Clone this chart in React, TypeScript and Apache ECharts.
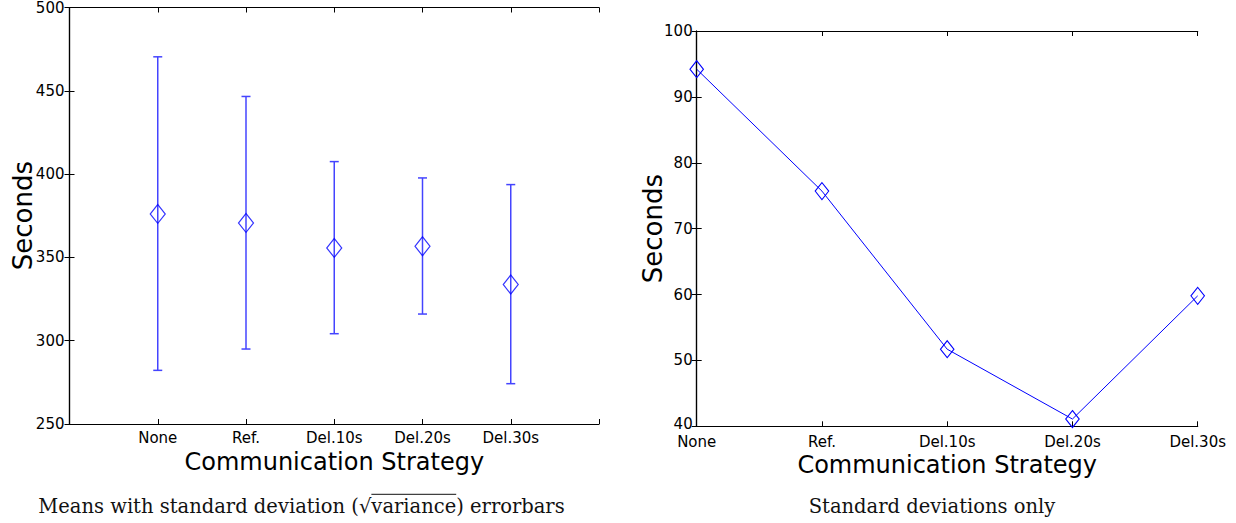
import React, { useEffect, useRef } from "react";
import * as echarts from "echarts";

// ---- data ----
const categories = ["None", "Ref.", "Del.10s", "Del.20s", "Del.30s"];
const meanSeconds = [376.1, 370.7, 355.7, 356.7, 333.7];
const lowerSeconds = [282.2, 295.0, 304.2, 316.0, 274.2];
const upperSeconds = [470.4, 446.6, 407.5, 397.7, 393.7];
const stdSeconds = [94.2, 75.7, 51.7, 41.1, 59.8];

const leftYMin = 250;
const leftYMax = 500;
const leftYStep = 50;
const rightYMin = 40;
const rightYMax = 100;
const rightYStep = 10;

const yAxisTitle = "Seconds";
const xAxisTitle = "Communication Strategy";
const leftCaptionA = "Means with standard deviation (\u221A";
const leftCaptionB = "variance";
const leftCaptionC = ") errorbars";
const rightCaption = "Standard deviations only";

const SANS = "DejaVu Sans";
const SERIF = "DejaVu Serif";
const BLUE = "#0000ff";
const BAR_BLUE = "#4444ff";

function measure(text: string, font: string): number {
  const c = document.createElement("canvas");
  const ctx = c.getContext("2d");
  if (!ctx) return text.length * 9;
  ctx.font = font;
  return ctx.measureText(text).width;
}

export default function App() {
  const ref = useRef<HTMLDivElement>(null);

  useEffect(() => {
    if (!ref.current) return;
    const chart = echarts.init(ref.current, undefined, { renderer: "svg" });

    const capFont = 19.5;
    const capFontStr = `${capFont}px "${SERIF}"`;
    const capX = 38.3;
    const wA = measure(leftCaptionA, capFontStr);
    const wB = measure(leftCaptionB, capFontStr);
    const capBaselineMid = 506.5;

    const tickCommon = {
      show: true,
      inside: true,
      length: 5,
      lineStyle: { color: "#000", width: 1 },
    };
    const lineCommon = { show: true, lineStyle: { color: "#000", width: 1.2 } };
    const labelCommon = {
      color: "#000",
      fontFamily: SANS,
      fontSize: 15,
    };

    const xLeftFmt = (v: number) => {
      const i = Math.round(v) - 1;
      return categories[i] ?? "";
    };
    const xRightFmt = (v: number) => {
      const i = Math.round(v);
      return categories[i] ?? "";
    };
    const yRightFmt = (v: number) => (v === rightYMin ? `{lo|${v}}` : `${v}`);

    const option: any = {
      animation: false,
      backgroundColor: "#fff",
      grid: [
        { left: 69.5, top: 7.3, width: 529.5, height: 416.7 },
        { left: 696.7, top: 31, width: 501, height: 395.3 },
      ],
      xAxis: [
        {
          type: "value",
          gridIndex: 0,
          position: "bottom",
          min: 0,
          max: categories.length + 1,
          interval: 1,
          axisLine: lineCommon,
          axisTick: tickCommon,
          splitLine: { show: false },
          axisLabel: { ...labelCommon, margin: 6, formatter: xLeftFmt },
        },
        {
          type: "value",
          gridIndex: 0,
          position: "top",
          min: 0,
          max: categories.length + 1,
          interval: 1,
          axisLine: lineCommon,
          axisTick: tickCommon,
          splitLine: { show: false },
          axisLabel: { show: false },
        },
        {
          type: "value",
          gridIndex: 1,
          position: "bottom",
          min: 0,
          max: categories.length - 1,
          interval: 1,
          axisLine: lineCommon,
          axisTick: tickCommon,
          splitLine: { show: false },
          axisLabel: {
            ...labelCommon,
            margin: 8.5,
            formatter: xRightFmt,
            showMinLabel: true,
            showMaxLabel: true,
          },
        },
        {
          type: "value",
          gridIndex: 1,
          position: "top",
          min: 0,
          max: categories.length - 1,
          interval: 1,
          axisLine: lineCommon,
          axisTick: tickCommon,
          splitLine: { show: false },
          axisLabel: { show: false },
        },
      ],
      yAxis: [
        {
          type: "value",
          gridIndex: 0,
          position: "left",
          min: leftYMin,
          max: leftYMax,
          interval: leftYStep,
          axisLine: lineCommon,
          axisTick: tickCommon,
          splitLine: { show: false },
          axisLabel: { ...labelCommon, margin: 5, showMinLabel: true, showMaxLabel: true },
        },
        {
          type: "value",
          gridIndex: 0,
          position: "right",
          min: leftYMin,
          max: leftYMax,
          interval: leftYStep,
          axisLine: lineCommon,
          axisTick: tickCommon,
          splitLine: { show: false },
          axisLabel: { show: false },
        },
        {
          type: "value",
          gridIndex: 1,
          position: "left",
          min: rightYMin,
          max: rightYMax,
          interval: rightYStep,
          axisLine: lineCommon,
          axisTick: tickCommon,
          splitLine: { show: false },
          axisLabel: {
            ...labelCommon,
            margin: 4,
            showMinLabel: true,
            showMaxLabel: true,
            formatter: yRightFmt,
            rich: {
              lo: {
                color: "#000",
                fontFamily: SANS,
                fontSize: 15,
                lineHeight: 14,
                padding: [0, 0, 4, 0],
              },
            },
          },
        },
        {
          type: "value",
          gridIndex: 1,
          position: "right",
          min: rightYMin,
          max: rightYMax,
          interval: rightYStep,
          axisLine: lineCommon,
          axisTick: tickCommon,
          splitLine: { show: false },
          axisLabel: { show: false },
        },
      ],
      series: [
        {
          type: "custom",
          name: "errorbars",
          xAxisIndex: 0,
          yAxisIndex: 0,
          clip: false,
          encode: { x: 0, y: [1, 2] },
          data: categories.map((_, i) => [i + 1, lowerSeconds[i], upperSeconds[i]]),
          renderItem: (params: any, api: any) => {
            const x = api.value(0);
            const lo = api.coord([x, api.value(1)]);
            const hi = api.coord([x, api.value(2)]);
            const cap = 4.5;
            const style = { stroke: BAR_BLUE, lineWidth: 1.5, fill: "none" };
            return {
              type: "group",
              children: [
                { type: "line", shape: { x1: lo[0], y1: lo[1], x2: hi[0], y2: hi[1] }, style },
                { type: "line", shape: { x1: lo[0] - cap, y1: lo[1], x2: lo[0] + cap, y2: lo[1] }, style },
                { type: "line", shape: { x1: hi[0] - cap, y1: hi[1], x2: hi[0] + cap, y2: hi[1] }, style },
              ],
            };
          },
          z: 2,
        },
        {
          type: "scatter",
          name: "mean",
          xAxisIndex: 0,
          yAxisIndex: 0,
          symbol: "diamond",
          symbolSize: [15, 19],
          clip: false,
          itemStyle: { color: "rgba(0,0,0,0)", borderColor: BLUE, borderWidth: 1.2 },
          data: categories.map((_, i) => [i + 1, meanSeconds[i]]),
          z: 3,
        },
        {
          type: "line",
          name: "std",
          xAxisIndex: 2,
          yAxisIndex: 2,
          symbol: "diamond",
          symbolSize: [13.5, 17],
          showSymbol: true,
          clip: false,
          lineStyle: { color: BLUE, width: 1 },
          itemStyle: { color: "rgba(0,0,0,0)", borderColor: BLUE, borderWidth: 1.1 },
          data: categories.map((_, i) => [i, stdSeconds[i]]),
          z: 3,
        },
      ],
      graphic: [
        {
          type: "text",
          x: 22.7,
          y: 215.6,
          rotation: Math.PI / 2,
          style: {
            text: yAxisTitle,
            font: `26px "${SANS}"`,
            fill: "#000",
            textAlign: "center",
            textVerticalAlign: "middle",
          },
        },
        {
          type: "text",
          x: 652.5,
          y: 228.6,
          rotation: Math.PI / 2,
          style: {
            text: yAxisTitle,
            font: `26px "${SANS}"`,
            fill: "#000",
            textAlign: "center",
            textVerticalAlign: "middle",
          },
        },
        {
          type: "text",
          x: 334.3,
          y: 462,
          style: {
            text: xAxisTitle,
            font: `24px "${SANS}"`,
            fill: "#000",
            textAlign: "center",
            textVerticalAlign: "middle",
          },
        },
        {
          type: "text",
          x: 947.2,
          y: 465,
          style: {
            text: xAxisTitle,
            font: `24px "${SANS}"`,
            fill: "#000",
            textAlign: "center",
            textVerticalAlign: "middle",
          },
        },
        {
          type: "text",
          x: capX,
          y: capBaselineMid,
          style: {
            text: leftCaptionA + leftCaptionB + leftCaptionC,
            font: capFontStr,
            fill: "#111",
            textAlign: "left",
            textVerticalAlign: "middle",
          },
        },
        {
          type: "line",
          shape: {
            x1: capX + wA,
            y1: 494.3,
            x2: capX + wA + wB,
            y2: 494.3,
          },
          style: { stroke: "#111", lineWidth: 1 },
        },
        {
          type: "text",
          x: 932,
          y: capBaselineMid,
          style: {
            text: rightCaption,
            font: capFontStr,
            fill: "#111",
            textAlign: "center",
            textVerticalAlign: "middle",
          },
        },
      ],
    };

    chart.setOption(option);
    return () => {
      chart.dispose();
    };
  }, []);

  return (
    <div
      ref={ref}
      style={{ position: "fixed", left: 0, top: 0, width: 1236, height: 523, background: "#fff" }}
    />
  );
}
